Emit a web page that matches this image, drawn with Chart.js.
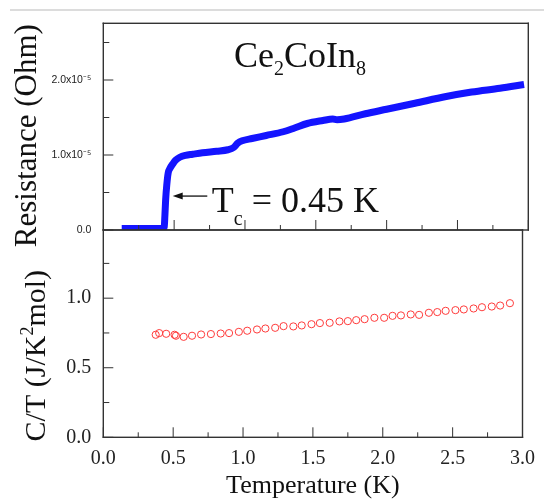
<!DOCTYPE html>
<html>
<head>
<meta charset="utf-8">
<script src="https://cdn.jsdelivr.net/npm/chart.js@4.4.0/dist/chart.umd.min.js"></script>
<style>
html,body{margin:0;padding:0;background:#fff;}
#wrap{position:relative;width:544px;height:502px;overflow:hidden;}
#rule{position:absolute;left:10px;top:9px;width:534px;height:2px;background:#dcdcdc;}
#c1{position:absolute;left:0;top:0;width:544px;height:262px;}
#c2{position:absolute;left:0;top:224px;width:544px;height:278px;}
</style>
</head>
<body>
<div id="wrap">
  <div id="rule"></div>
  <canvas id="c1" width="544" height="262"></canvas>
  <canvas id="c2" width="544" height="278"></canvas>
</div>
<script>
// resistance, in units of 1e-5 Ohm
const resT = [0.13,0.25,0.35,0.42,0.43,0.435,0.44,0.448,0.458,0.47,0.49,0.51,0.54,0.58,0.63,0.7,0.8,0.88,0.92,0.95,0.98,1.05,1.15,1.27,1.35,1.44,1.55,1.62,1.65,1.7,1.85,2.0,2.2,2.42,2.6,2.8,2.97];
const resR = [0.02,0.02,0.02,0.02,0.04,0.2,0.4,0.6,0.76,0.82,0.88,0.93,0.97,0.995,1.01,1.03,1.05,1.07,1.1,1.16,1.19,1.22,1.26,1.31,1.36,1.42,1.46,1.48,1.47,1.48,1.55,1.61,1.69,1.78,1.84,1.89,1.94];

// specific heat C/T (J/K^2 mol)
const ctT = [0.375,0.40,0.45,0.51,0.52,0.575,0.635,0.70,0.77,0.84,0.90,0.97,1.03,1.10,1.16,1.23,1.29,1.36,1.42,1.49,1.55,1.62,1.69,1.75,1.81,1.87,1.94,2.01,2.07,2.13,2.20,2.26,2.33,2.39,2.45,2.52,2.58,2.65,2.71,2.78,2.84,2.91];
const ctV = [0.737,0.749,0.744,0.737,0.73,0.722,0.73,0.739,0.742,0.746,0.749,0.758,0.766,0.775,0.782,0.787,0.799,0.797,0.804,0.813,0.821,0.823,0.833,0.835,0.842,0.849,0.859,0.859,0.873,0.876,0.883,0.880,0.895,0.900,0.909,0.914,0.919,0.926,0.935,0.940,0.947,0.964];

const xTicks = [0,0.5,1.0,1.5,2.0,2.5,3.0];
const xMinor = [0.25,0.75,1.25,1.75,2.25,2.75];
const resTicks = [0,1,2];
const resMinor = [0.5,1.5,2.5];
const ctTicks = [0,0.5,1.0];
const ctMinor = [0.25,0.75,1.25];

const serif = "'Liberation Serif','Times New Roman',serif";
const sans = "'Liberation Sans',Arial,sans-serif";

function rich(ctx, x, y, parts, align){
  // parts: [text, size, dy]
  let w = 0;
  parts.forEach(p => { ctx.font = p[1] + 'px ' + serif; w += ctx.measureText(p[0]).width; });
  let cx = align === 'center' ? x - w/2 : x;
  parts.forEach(p => {
    ctx.font = p[1] + 'px ' + serif;
    ctx.fillText(p[0], cx, y + (p[2] || 0));
    cx += ctx.measureText(p[0]).width;
  });
}

const framePlugin = {
  id: 'frame',
  afterDraw(chart, args, o){
    const ctx = chart.ctx;
    const a = chart.chartArea;
    const sx = chart.scales.x, sy = chart.scales.y;
    const L = a.left, R = a.right, T = a.top, B = a.bottom;
    ctx.save();
    ctx.fillStyle = '#333';
    // frame
    ctx.fillRect(L - 0.7, T - 0.7, R - L + 1.4, 1.4);
    ctx.fillRect(L - 0.7, B - 0.7, R - L + 1.4, 1.4);
    ctx.fillRect(L - 0.7, T - 0.7, 1.4, B - T + 1.4);
    ctx.fillRect(R - 0.7, T - 0.7, 1.4, B - T + 1.4);
    // inward ticks
    xTicks.forEach(v => { const p = sx.getPixelForValue(v); ctx.fillRect(p - 0.5, B - 10, 1, 10); });
    xMinor.forEach(v => { const p = sx.getPixelForValue(v); ctx.fillRect(p - 0.5, B - 5, 1, 5); });
    o.major.forEach(v => { const p = sy.getPixelForValue(v); ctx.fillRect(L, p - 0.5, 10, 1); });
    o.minor.forEach(v => { const p = sy.getPixelForValue(v); ctx.fillRect(L, p - 0.5, 6, 1); });
    // y title, rotated
    ctx.fillStyle = '#111';
    ctx.translate(o.titleX, (T + B)/2 + o.titleShift);
    ctx.rotate(-Math.PI/2);
    ctx.textBaseline = 'alphabetic';
    rich(ctx, 0, 0, o.title, 'center');
    ctx.restore();
  }
};

const notePlugin = {
  id: 'notes',
  afterDraw(chart){
    const ctx = chart.ctx;
    const x = chart.scales.x, y = chart.scales.y;
    ctx.save();
    ctx.fillStyle = '#111';
    ctx.textBaseline = 'alphabetic';
    rich(ctx, x.getPixelForValue(0.923), y.getPixelForValue(2.17),
      [['Ce',36],['2',20,8],['CoIn',36],['8',20,8]]);
    rich(ctx, x.getPixelForValue(0.766), y.getPixelForValue(0.244),
      [['T',36],['c',20,13],[' = 0.45 K',36]]);
    // arrow to the transition
    const x1 = x.getPixelForValue(0.734), x0 = x.getPixelForValue(0.49), ay = y.getPixelForValue(0.453);
    ctx.fillRect(x0 + 8, ay - 0.6, x1 - x0 - 8, 1.3);
    ctx.beginPath(); ctx.moveTo(x0, ay); ctx.lineTo(x0 + 10, ay - 3.5); ctx.lineTo(x0 + 10, ay + 3.5); ctx.closePath(); ctx.fill();
    ctx.restore();
  }
};

const fixY = s => { s.width = 103.3; s.paddingTop = 0; s.paddingBottom = 0; };

new Chart(document.getElementById('c1'), {
  type: 'scatter',
  data: {
    datasets: [{
      data: resT.map((t, i) => ({x: t, y: resR[i]})),
      showLine: true,
      borderColor: '#1414ff',
      borderWidth: 7,
      pointRadius: 0,
      cubicInterpolationMode: 'monotone'
    }]
  },
  options: {
    responsive: false, animation: false, devicePixelRatio: 1,
    layout: {padding: {top: 23.3, bottom: 32, left: 0, right: 15.7}},
    plugins: {
      legend: {display: false}, tooltip: {enabled: false},
      frame: {major: resTicks, minor: resMinor, titleX: 36, titleShift: 9,
        title: [['Resistance (Ohm)',31]]}
    },
    scales: {
      x: {type: 'linear', min: 0, max: 3, display: false},
      y: {
        min: 0, max: 2.756,
        afterFit: fixY,
        afterBuildTicks: s => { s.ticks = resTicks.map(v => ({value: v})); },
        grid: {display: false, drawTicks: false},
        border: {display: false},
        ticks: {
          padding: 12, color: '#222',
          font: {family: sans, size: 10.5},
          callback: v => v === 0 ? '0.0' : v.toFixed(1) + 'x10\u207B\u2075'
        }
      }
    }
  },
  plugins: [framePlugin, notePlugin]
});

new Chart(document.getElementById('c2'), {
  type: 'scatter',
  data: {
    datasets: [{
      data: ctT.map((t, i) => ({x: t, y: ctV[i]})),
      pointStyle: 'circle',
      pointRadius: 3.6,
      borderWidth: 1,
      borderColor: '#ff3b3b',
      backgroundColor: 'rgba(0,0,0,0)'
    }]
  },
  options: {
    responsive: false, animation: false, devicePixelRatio: 1,
    layout: {padding: {top: 6, bottom: 0, left: 0, right: 15.7}},
    plugins: {
      legend: {display: false}, tooltip: {enabled: false},
      frame: {major: ctTicks, minor: ctMinor, titleX: 45, titleShift: 22,
        title: [['C/T (J/K',30],['2',18,-12],['mol)',30]]}
    },
    scales: {
      x: {
        type: 'linear', min: 0, max: 3,
        afterFit: s => { s.height = 64.7; },
        afterBuildTicks: s => { s.ticks = xTicks.map(v => ({value: v})); },
        grid: {display: false, drawTicks: false},
        border: {display: false},
        ticks: {padding: 9, color: '#222', font: {family: serif, size: 20}, callback: v => v.toFixed(1)},
        title: {display: true, text: 'Temperature (K)', color: '#111', font: {family: serif, size: 26}, padding: {top: 0, bottom: 0}}
      },
      y: {
        min: 0, max: 1.49,
        afterFit: fixY,
        afterBuildTicks: s => { s.ticks = ctTicks.map(v => ({value: v})); },
        grid: {display: false, drawTicks: false},
        border: {display: false},
        ticks: {padding: 12, color: '#222', font: {family: serif, size: 20}, callback: v => v.toFixed(1)}
      }
    }
  },
  plugins: [framePlugin]
});
</script>
</body>
</html>
